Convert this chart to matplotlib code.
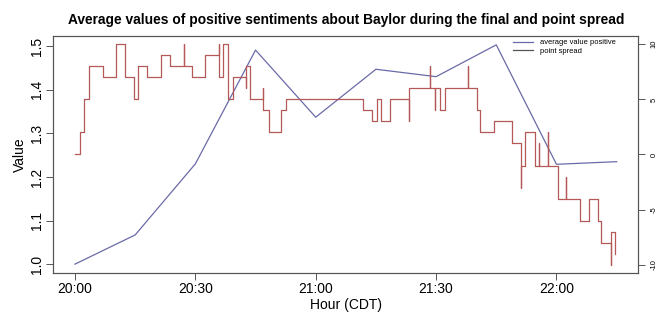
import matplotlib
matplotlib.use("Agg")
import matplotlib.pyplot as plt
from matplotlib.lines import Line2D

plt.rcParams['font.family'] = ['Liberation Sans', 'DejaVu Sans']

# average value of positive sentiment, every 15 minutes after 20:00
avg_min = [0, 15, 30, 45, 60, 75, 90, 105, 120, 135]
avg_val = [1.0, 1.067, 1.23, 1.491, 1.337, 1.447, 1.43, 1.503, 1.229, 1.235]

# point spread (minutes after 20:00), repeated times give the short spikes
spread_min = [0, 1.2, 2.3, 3.55, 6.9, 10.2, 12.4, 14.7, 15.7, 18.0,
              21.4, 23.6, 27.1, 27.1, 29.2, 32.5, 35.8, 35.8, 36.8, 38.2,
              39.3, 42.5, 42.5, 43.6, 46.9, 46.9, 48.4, 51.3, 52.7, 71.8,
              74.1, 75.3, 76.3, 78.5, 83.2, 83.2, 88.4, 88.4, 89.8, 89.8,
              90.9, 92.1, 97.9, 97.9, 100.1, 101.0, 104.5, 108.8, 111.2, 111.2,
              112.2, 114.6, 115.6, 115.6, 118.0, 118.0, 120.3, 122.5, 122.5, 125.8,
              128.1, 130.4, 131.2, 133.7, 133.7, 134.7]
spread_val = [0, 2, 5, 8, 7, 10, 7, 5, 8, 7,
              9, 8, 10, 8, 7, 9, 10, 7, 10, 5,
              7, 6, 8, 5, 6, 4, 2, 4, 5, 4,
              3, 5, 3, 5, 3, 6, 8, 6, 4, 6,
              4, 6, 8, 6, 4, 2, 3, 1, -3, -1,
              2, -1, 1, -1, 2, -1, -4, -2, -4, -6,
              -4, -6, -8, -10, -7, -9]

hour_ticks = [0, 30, 60, 90, 120]
hour_labels = ["20:00", "20:30", "21:00", "21:30", "22:00"]

blue = '#6a6aa8'
red = '#b65858'
grey = '#555555'

fig = plt.figure(figsize=(6.59, 3.15), dpi=100)
ax = fig.add_axes([0.0809, 0.1324, 0.8877, 0.7543])
ax2 = ax.twinx()

ax.plot(avg_min, avg_val, color=blue, lw=0.9)
ax2.plot(spread_min, spread_val, color=red, lw=0.9, drawstyle='steps-post')

ax.set_xlim(-5.4, 140.4)
ax.set_ylim(0.979, 1.524)
ax2.set_ylim(-10.78, 10.78)

ax.set_xticks(hour_ticks)
ax.set_xticklabels(hour_labels)
ax.set_yticks([1.0, 1.1, 1.2, 1.3, 1.4, 1.5])
ax.set_yticklabels(["1.0", "1.1", "1.2", "1.3", "1.4", "1.5"], rotation=90, va='center')
ax2.set_yticks([-10, -5, 0, 5, 10])
ax2.set_yticklabels(["-10", "-5", "0", "5", "10"], rotation=90, va='center')

ax.tick_params(axis='both', labelsize=10, length=5, width=0.7, color=grey, pad=2)
ax.tick_params(axis='x', pad=1.5)
ax2.tick_params(axis='y', labelsize=5.5, length=5, width=0.7, color=grey, pad=4)

for a in (ax, ax2):
    for s in a.spines.values():
        s.set_color(grey)
        s.set_linewidth(0.8)

ax.set_xlabel("Hour (CDT)", fontsize=10, labelpad=1)
ax.set_ylabel("Value", fontsize=10, labelpad=2)
fig.suptitle("Average values of positive sentiments about Baylor during the final and point spread",
             fontsize=9.9, fontweight='bold', x=0.525, y=0.96)

handles = [Line2D([], [], color=blue, lw=0.9), Line2D([], [], color=grey, lw=0.9)]
ax.legend(handles, ["average value positive", "point spread"], loc='upper left',
          bbox_to_anchor=(513 / 659, 1 - 39 / 315), bbox_transform=fig.transFigure,
          frameon=False, fontsize=5.4, handlelength=2.7, handletextpad=0.9,
          labelspacing=0.15, borderpad=0, borderaxespad=0)

fig.savefig("out.png", dpi=100)
